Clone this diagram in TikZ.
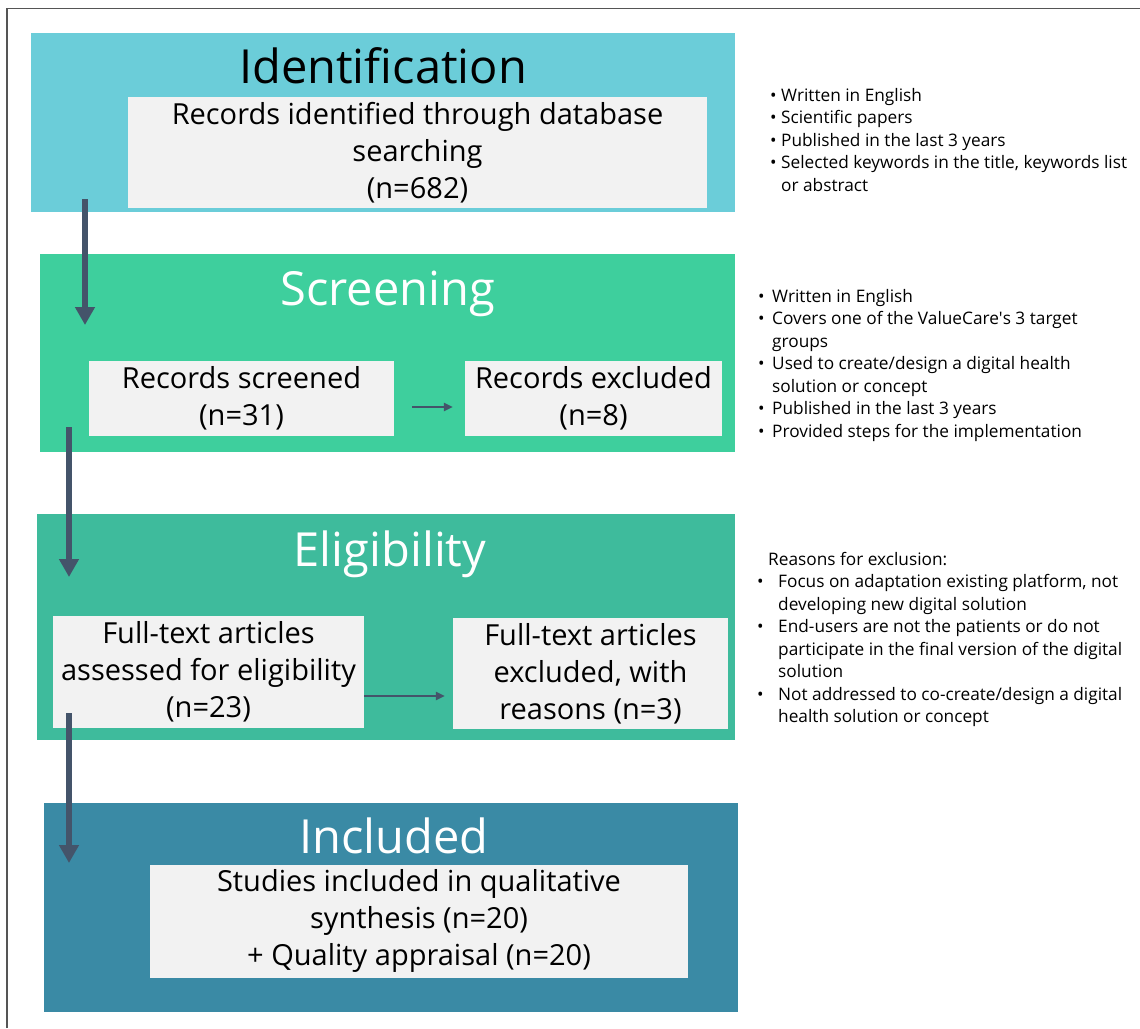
\documentclass[tikz,border=0pt]{standalone}
\usepackage{fontspec}
\setmainfont{Open Sans}
\usepackage{xcolor}
\usepackage{tikz}
\usetikzlibrary{shapes,arrows.meta,positioning}

\definecolor{identcol}{HTML}{6BCDD9}
\definecolor{screencol}{HTML}{3ECF9D}
\definecolor{eligcol}{HTML}{3EBB9C}
\definecolor{inclcol}{HTML}{3A8AA5}
\definecolor{innergray}{HTML}{F2F2F2}
\definecolor{arrowblue}{HTML}{44546A}
\definecolor{framegray}{HTML}{555555}

\newcommand{\bul}[1][14pt]{\makebox[#1][l]{\textbullet}}

\begin{document}
\begin{tikzpicture}[
    x=1pt, y=-1pt,
    stage/.style={rectangle, inner sep=0pt},
    stagetitle/.style={anchor=base, inner sep=0pt, font=\fontsize{47}{50}\selectfont},
    inbox/.style={rectangle, fill=innergray, inner sep=0pt, align=center, font=\fontsize{29}{37}\selectfont},
    notes/.style={anchor=north west, inner sep=0pt, align=left, font=\fontsize{17.25}{22.5}\selectfont},
    flowarrow/.style={-{Triangle[width=19pt,length=18pt]}, line width=6pt, arrowblue},
    smallarrow/.style={-{Triangle[width=8pt,length=9pt]}, line width=2.5pt, arrowblue}
]
\useasboundingbox (0,0) rectangle (1140,1028);

% Frame (top and left edges)
\draw[framegray, line width=1.5pt] (7,1028) -- (7,8.5) -- (1140,8.5);

% === Identification ===
\node[stage, fill=identcol, minimum width=704pt, minimum height=179pt] (ident) at (383,122.5) {};
\node[stagetitle] (identtitle) at (383,83) {Identification};
\node[inbox, minimum width=579pt, minimum height=111pt] (records) at (417.5,152.5)
    {Records identified through database\\searching\\(n=682)};

% === Screening ===
\node[stage, fill=screencol, minimum width=695pt, minimum height=198pt] (screen) at (387.5,353) {};
\node[stagetitle, text=white] (screentitle) at (387.5,305) {Screening};
\node[inbox, minimum width=305pt, minimum height=75pt] (screened) at (241.5,398.5)
    {Records screened\\(n=31)};
\node[inbox, minimum width=257pt, minimum height=75pt] (screenexcl) at (593.5,398.5)
    {Records excluded\\(n=8)};

% === Eligibility ===
\node[stage, fill=eligcol, minimum width=698pt, minimum height=226pt] (elig) at (386,627) {};
\node[stagetitle, text=white] (eligtitle) at (390,566) {Eligibility};
\node[inbox, minimum width=311pt, minimum height=112pt] (fulltext) at (208.5,672)
    {Full-text articles\\assessed for eligibility\\(n=23)};
\node[inbox, minimum width=275pt, minimum height=111pt] (ftexcl) at (590.5,673.5)
    {Full-text articles\\excluded, with\\reasons (n=3)};

% === Included ===
\node[stage, fill=inclcol, minimum width=694pt, minimum height=209pt] (incl) at (391,907.5) {};
\node[stagetitle, text=white] (incltitle) at (394,853) {Included};
\node[inbox, minimum width=538pt, minimum height=113pt] (studies) at (419,921)
    {Studies included in qualitative\\synthesis (n=20)\\+ Quality appraisal (n=20)};

% Flow arrows between stages
\coordinate (a1top) at (85,199);
\coordinate (a1tip) at (85,325);
\coordinate (a2top) at (69,427);
\coordinate (a2tip) at (69,577);
\coordinate (a3top) at (69,713);
\coordinate (a3tip) at (69,863);
\draw[flowarrow] (a1top) -- (a1tip);
\draw[flowarrow] (a2top) -- (a2tip);
\draw[flowarrow] (a3top) -- (a3tip);

% Exclusion arrows
\draw[smallarrow, shorten <=18pt, shorten >=12pt] ([yshift=-8.5pt]screened.east) -- ([yshift=-8.5pt]screenexcl.west);
\draw[smallarrow, shorten >=8pt] ([yshift=-24pt]fulltext.east) -- ([yshift=-22.5pt]ftexcl.west);

% === Criteria notes ===
\node[notes] (identnotes) at (770,88) {%
    \bul[11pt]Written in English\\
    \bul[11pt]Scientific papers\\
    \bul[11pt]Published in the last 3 years\\
    \bul[11pt]Selected keywords in the title, keywords list\\
    \hspace*{11pt}or abstract};

\node[notes] (screennotes) at (758,289) {%
    \bul Written in English\\
    \bul Covers one of the ValueCare\textquotesingle s 3 target\\
    \hspace*{14pt}groups\\
    \bul Used to create/design a digital health\\
    \hspace*{14pt}solution or concept\\
    \bul Published in the last 3 years\\
    \bul Provided steps for the implementation};

\node[notes] (elignotes) at (757,552) {%
    \hspace*{11pt}Reasons for exclusion:\\
    \bul[21pt]Focus on adaptation existing platform, not\\
    \hspace*{21pt}developing new digital solution\\
    \bul[21pt]End-users are not the patients or do not\\
    \hspace*{21pt}participate in the final version of the digital\\
    \hspace*{21pt}solution\\
    \bul[21pt]Not addressed to co-create/design a digital\\
    \hspace*{21pt}health solution or concept};

\end{tikzpicture}
\end{document}
